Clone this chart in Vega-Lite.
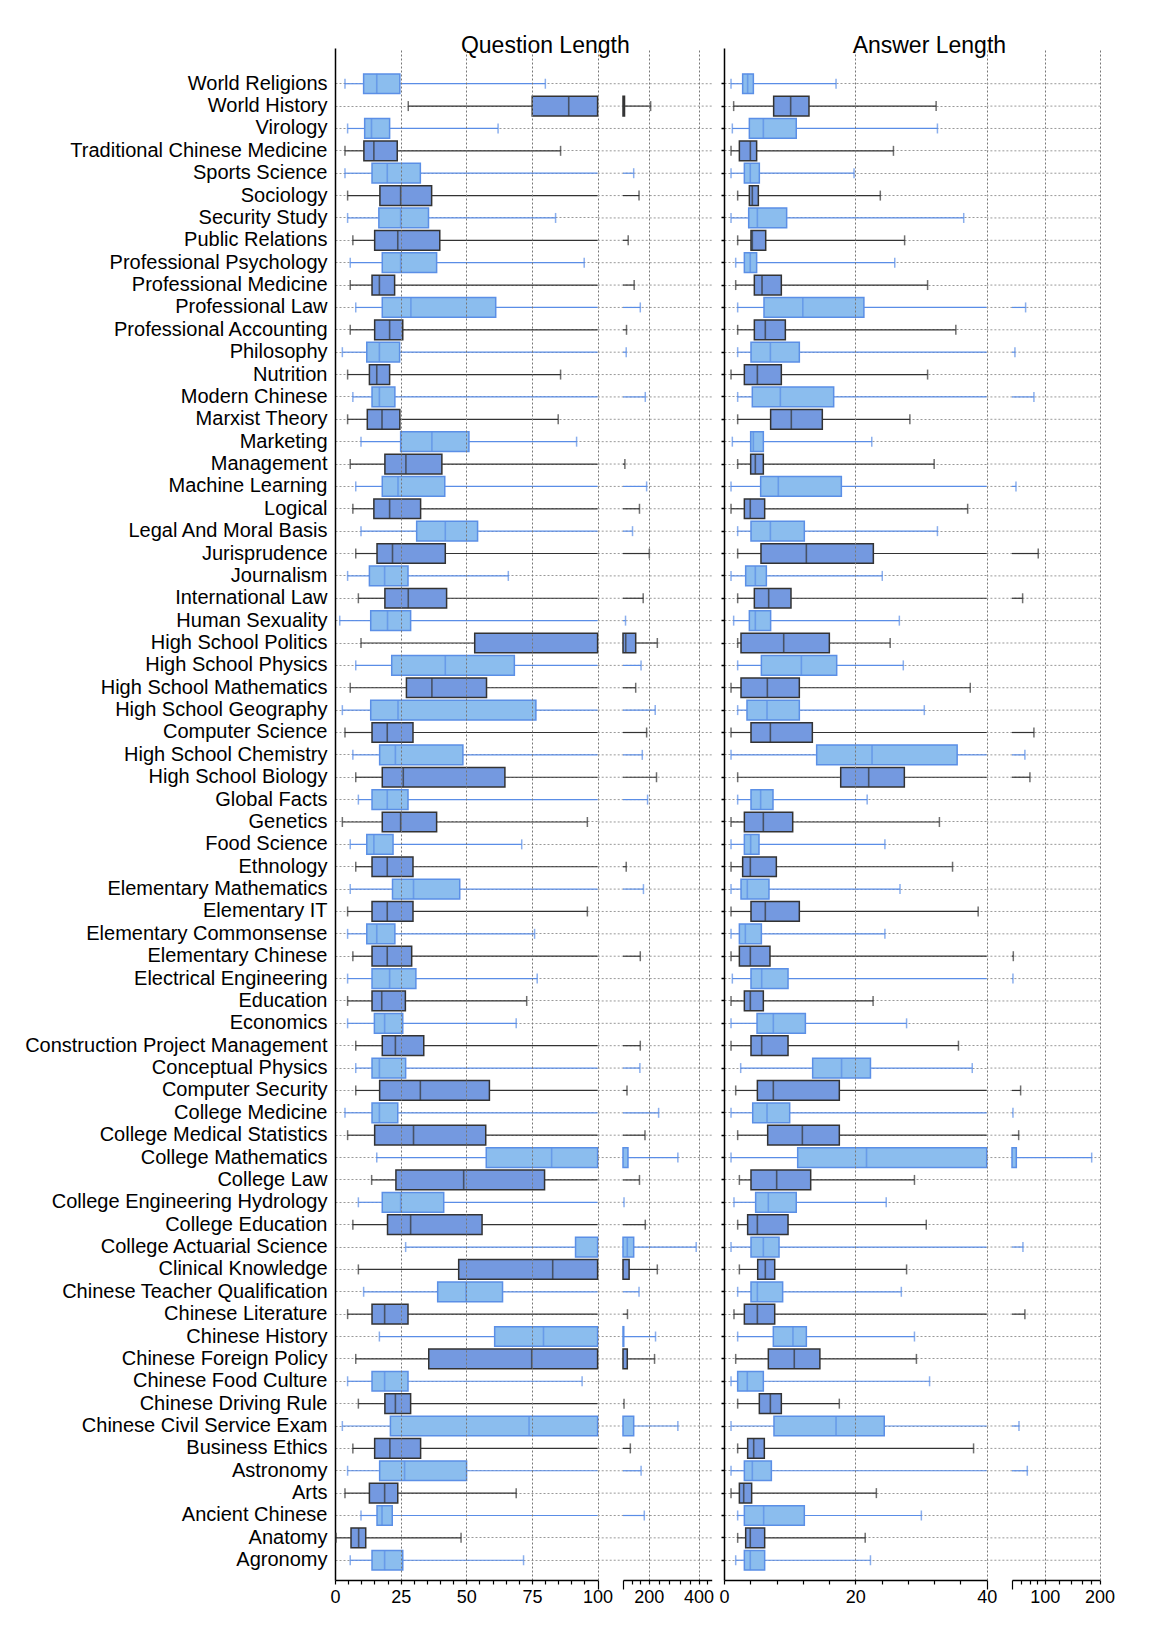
{
"$schema": "https://vega.github.io/schema/vega-lite/v6.json",
"padding": {"left": 24, "top": 35, "right": 10, "bottom": 10},
"background": "white",
"config": {"view": {"stroke": null}, "font": "Liberation Sans"},
"data": {"values": [
{"s":"World Religions","qmin":3.8,"qq1":10.9,"qmed":15.9,"qq3":24.7,"qmax":80.1,"amin":1.07,"aq1":2.84,"amed":3.6,"aq3":4.47,"amax":17.06},
{"s":"World History","qmin":27.9,"qq1":75.1,"qmed":89,"qq3":143,"qmax":205.5,"amin":1.47,"aq1":7.56,"amed":10.15,"aq3":12.94,"amax":32.3},
{"s":"Virology","qmin":4.8,"qq1":11.3,"qmed":13.9,"qq3":20.8,"qmax":62.1,"amin":1.27,"aq1":3.86,"amed":5.99,"aq3":11.0,"amax":32.5},
{"s":"Traditional Chinese Medicine","qmin":3.8,"qq1":11.0,"qmed":14.8,"qq3":23.7,"qmax":85.9,"amin":1.07,"aq1":2.34,"amed":4.01,"aq3":4.97,"amax":25.8},
{"s":"Sports Science","qmin":3.8,"qq1":14.1,"qmed":19.9,"qq3":32.5,"qmax":162.4,"amin":1.07,"aq1":3.1,"amed":4.0,"aq3":5.38,"amax":19.8},
{"s":"Sociology","qmin":4.8,"qq1":17.1,"qmed":25.0,"qq3":36.8,"qmax":174.9,"amin":2.08,"aq1":3.86,"amed":4.31,"aq3":5.23,"amax":23.8},
{"s":"Security Study","qmin":4.8,"qq1":16.7,"qmed":25.0,"qq3":35.6,"qmax":84.0,"amin":1.07,"aq1":3.76,"amed":5.08,"aq3":9.54,"amax":36.5},
{"s":"Public Relations","qmin":6.8,"qq1":15.1,"qmed":23.9,"qq3":39.9,"qmax":150.5,"amin":2.08,"aq1":4.11,"amed":4.31,"aq3":6.35,"amax":27.5},
{"s":"Professional Psychology","qmin":5.8,"qq1":18.0,"qmed":25.0,"qq3":38.7,"qmax":94.9,"amin":1.78,"aq1":3.1,"amed":4.0,"aq3":4.97,"amax":26.0},
{"s":"Professional Medicine","qmin":5.8,"qq1":14.1,"qmed":16.9,"qq3":22.7,"qmax":163.5,"amin":1.78,"aq1":4.62,"amed":5.79,"aq3":8.73,"amax":31.0},
{"s":"Professional Law","qmin":7.9,"qq1":18.0,"qmed":28.9,"qq3":61.2,"qmax":178,"amin":2.08,"aq1":6.09,"amed":12.0,"aq3":21.3,"amax":78.4},
{"s":"Professional Accounting","qmin":5.8,"qq1":15.1,"qmed":20.8,"qq3":25.8,"qmax":147,"amin":2.08,"aq1":4.62,"amed":6.29,"aq3":9.34,"amax":35.3},
{"s":"Philosophy","qmin":2.8,"qq1":12.1,"qmed":16.9,"qq3":24.6,"qmax":146.4,"amin":2.08,"aq1":4.11,"amed":7.06,"aq3":11.47,"amax":68.5},
{"s":"Nutrition","qmin":4.8,"qq1":13.1,"qmed":15.9,"qq3":20.8,"qmax":85.9,"amin":1.07,"aq1":3.1,"amed":5.08,"aq3":8.73,"amax":31.0},
{"s":"Modern Chinese","qmin":6.8,"qq1":14.1,"qmed":16.9,"qq3":22.8,"qmax":190.8,"amin":2.08,"aq1":4.31,"amed":8.58,"aq3":16.7,"amax":87.1},
{"s":"Marxist Theory","qmin":4.8,"qq1":12.3,"qmed":17.9,"qq3":24.7,"qmax":85.0,"amin":2.08,"aq1":7.1,"amed":10.25,"aq3":14.97,"amax":28.3},
{"s":"Marketing","qmin":9.9,"qq1":25.0,"qmed":36.9,"qq3":51.0,"qmax":92.0,"amin":1.27,"aq1":4.06,"amed":4.47,"aq3":5.99,"amax":22.5},
{"s":"Management","qmin":5.8,"qq1":19.0,"qmed":27.0,"qq3":40.7,"qmax":143.7,"amin":2.08,"aq1":4.06,"amed":4.77,"aq3":5.99,"amax":32.0},
{"s":"Machine Learning","qmin":7.9,"qq1":18.0,"qmed":24.0,"qq3":41.8,"qmax":194.4,"amin":1.07,"aq1":5.58,"amed":8.27,"aq3":17.87,"amax":69.4},
{"s":"Logical","qmin":6.8,"qq1":14.8,"qmed":20.8,"qq3":32.6,"qmax":176,"amin":1.07,"aq1":3.1,"amed":4.0,"aq3":6.19,"amax":37.1},
{"s":"Legal And Moral Basis","qmin":9.9,"qq1":31.1,"qmed":42.0,"qq3":54.3,"qmax":159.8,"amin":2.08,"aq1":4.11,"amed":7.06,"aq3":12.23,"amax":32.5},
{"s":"Jurisprudence","qmin":7.9,"qq1":16.0,"qmed":21.9,"qq3":42.0,"qmax":201.8,"amin":2.08,"aq1":5.63,"amed":12.54,"aq3":22.74,"amax":92.0},
{"s":"Journalism","qmin":4.8,"qq1":13.1,"qmed":18.9,"qq3":27.8,"qmax":66.0,"amin":1.07,"aq1":3.3,"amed":4.77,"aq3":6.45,"amax":24.1},
{"s":"International Law","qmin":8.9,"qq1":19.0,"qmed":27.9,"qq3":42.5,"qmax":185.3,"amin":2.08,"aq1":4.62,"amed":6.8,"aq3":10.2,"amax":75.5},
{"s":"Human Sexuality","qmin":1.8,"qq1":13.6,"qmed":20.0,"qq3":28.8,"qmax":145,"amin":1.47,"aq1":3.86,"amed":4.77,"aq3":7.1,"amax":26.7},
{"s":"High School Politics","qmin":9.9,"qq1":53.2,"qmed":145.4,"qq3":167,"qmax":225.5,"amin":2.08,"aq1":2.59,"amed":9.09,"aq3":16.04,"amax":25.3},
{"s":"High School Physics","qmin":7.9,"qq1":21.6,"qmed":42.0,"qq3":68.3,"qmax":179.9,"amin":2.08,"aq1":5.69,"amed":11.78,"aq3":17.16,"amax":27.3},
{"s":"High School Mathematics","qmin":5.8,"qq1":27.2,"qmed":36.9,"qq3":57.7,"qmax":167,"amin":1.07,"aq1":2.59,"amed":6.6,"aq3":11.47,"amax":37.5},
{"s":"High School Geography","qmin":2.8,"qq1":13.6,"qmed":24.0,"qq3":76.5,"qmax":219,"amin":2.08,"aq1":3.5,"amed":6.55,"aq3":11.47,"amax":30.5},
{"s":"Computer Science","qmin":3.8,"qq1":14.1,"qmed":19.9,"qq3":29.7,"qmax":194.4,"amin":1.07,"aq1":4.11,"amed":7.06,"aq3":13.45,"amax":87.1},
{"s":"High School Chemistry","qmin":6.8,"qq1":17.0,"qmed":23.0,"qq3":48.7,"qmax":183,"amin":1.07,"aq1":14.11,"amed":22.54,"aq3":35.5,"amax":77.7},
{"s":"High School Biology","qmin":7.9,"qq1":18.0,"qmed":26.0,"qq3":64.7,"qmax":223,"amin":2.08,"aq1":17.77,"amed":22.03,"aq3":27.46,"amax":82.8},
{"s":"Global Facts","qmin":8.9,"qq1":14.1,"qmed":19.9,"qq3":27.8,"qmax":197,"amin":2.08,"aq1":4.11,"amed":5.58,"aq3":7.46,"amax":21.8},
{"s":"Genetics","qmin":2.8,"qq1":18.0,"qmed":25.0,"qq3":38.7,"qmax":96.1,"amin":1.07,"aq1":3.1,"amed":5.99,"aq3":10.46,"amax":32.8},
{"s":"Food Science","qmin":5.8,"qq1":12.1,"qmed":14.8,"qq3":22.1,"qmax":71.1,"amin":1.07,"aq1":3.1,"amed":4.06,"aq3":5.33,"amax":24.5},
{"s":"Ethnology","qmin":7.9,"qq1":14.1,"qmed":19.9,"qq3":29.7,"qmax":146.4,"amin":1.07,"aq1":2.84,"amed":4.01,"aq3":7.97,"amax":34.8},
{"s":"Elementary Mathematics","qmin":5.8,"qq1":21.9,"qmed":29.9,"qq3":47.5,"qmax":186,"amin":1.07,"aq1":2.59,"amed":3.55,"aq3":6.85,"amax":26.8},
{"s":"Elementary IT","qmin":4.8,"qq1":14.1,"qmed":19.9,"qq3":29.7,"qmax":96.1,"amin":1.07,"aq1":4.11,"amed":6.29,"aq3":11.47,"amax":38.7},
{"s":"Elementary Commonsense","qmin":4.8,"qq1":12.1,"qmed":15.9,"qq3":22.8,"qmax":76.0,"amin":1.07,"aq1":2.34,"amed":3.25,"aq3":5.69,"amax":24.5},
{"s":"Elementary Chinese","qmin":6.8,"qq1":14.1,"qmed":19.9,"qq3":29.2,"qmax":178,"amin":1.07,"aq1":2.34,"amed":4.01,"aq3":7.0,"amax":67.1},
{"s":"Electrical Engineering","qmin":4.8,"qq1":14.1,"qmed":20.8,"qq3":30.8,"qmax":77.0,"amin":1.27,"aq1":4.11,"amed":5.74,"aq3":9.75,"amax":66.8},
{"s":"Education","qmin":4.8,"qq1":14.1,"qmed":17.8,"qq3":26.8,"qmax":73.0,"amin":1.07,"aq1":3.1,"amed":4.01,"aq3":5.99,"amax":22.7},
{"s":"Economics","qmin":4.8,"qq1":15.0,"qmed":18.9,"qq3":25.8,"qmax":69.0,"amin":1.07,"aq1":5.03,"amed":7.51,"aq3":12.39,"amax":27.8},
{"s":"Construction Project Management","qmin":7.9,"qq1":18.0,"qmed":23.0,"qq3":33.8,"qmax":178,"amin":1.07,"aq1":4.11,"amed":5.74,"aq3":9.75,"amax":35.7},
{"s":"Conceptual Physics","qmin":7.9,"qq1":14.1,"qmed":16.9,"qq3":26.9,"qmax":177,"amin":2.54,"aq1":13.5,"amed":17.9,"aq3":22.3,"amax":37.8},
{"s":"Computer Security","qmin":7.9,"qq1":17.0,"qmed":32.5,"qq3":58.8,"qmax":148,"amin":1.78,"aq1":5.08,"amed":7.51,"aq3":17.56,"amax":73.6},
{"s":"College Medicine","qmin":3.8,"qq1":14.1,"qmed":16.9,"qq3":23.9,"qmax":229.6,"amin":1.07,"aq1":4.37,"amed":6.55,"aq3":10.0,"amax":66.8},
{"s":"College Medical Statistics","qmin":4.8,"qq1":15.1,"qmed":29.9,"qq3":57.4,"qmax":190,"amin":2.08,"aq1":6.65,"amed":11.93,"aq3":17.56,"amax":71.8},
{"s":"College Mathematics","qmin":15.9,"qq1":57.6,"qmed":82.5,"qq3":150,"qmax":300,"amin":1.07,"aq1":11.22,"amed":21.7,"aq3":69.7,"amax":180.9},
{"s":"College Law","qmin":13.95,"qq1":23.2,"qmed":49.0,"qq3":79.8,"qmax":176,"amin":2.34,"aq1":4.11,"amed":8.02,"aq3":13.2,"amax":29.0},
{"s":"College Engineering Hydrology","qmin":8.9,"qq1":18.0,"qmed":25.0,"qq3":41.4,"qmax":142,"amin":1.52,"aq1":4.82,"amed":6.75,"aq3":11.0,"amax":24.7},
{"s":"College Education","qmin":6.8,"qq1":20.0,"qmed":28.8,"qq3":56.0,"qmax":190.8,"amin":2.08,"aq1":3.6,"amed":5.08,"aq3":9.75,"amax":30.8},
{"s":"College Actuarial Science","qmin":26.9,"qq1":91.6,"qmed":148.6,"qq3":162.4,"qmax":387,"amin":1.07,"aq1":4.11,"amed":5.99,"aq3":8.38,"amax":75.8},
{"s":"Clinical Knowledge","qmin":8.9,"qq1":47.1,"qmed":82.9,"qq3":152.4,"qmax":225.5,"amin":2.34,"aq1":5.13,"amed":6.29,"aq3":7.72,"amax":27.8},
{"s":"Chinese Teacher Qualification","qmin":10.9,"qq1":39.1,"qmed":49.9,"qq3":63.8,"qmax":174.9,"amin":2.08,"aq1":4.11,"amed":5.08,"aq3":8.93,"amax":27.0},
{"s":"Chinese Literature","qmin":4.8,"qq1":14.1,"qmed":18.9,"qq3":27.8,"qmax":149,"amin":1.52,"aq1":3.1,"amed":5.08,"aq3":7.72,"amax":77.7},
{"s":"Chinese History","qmin":16.9,"qq1":60.8,"qmed":79.4,"qq3":141.5,"qmax":220,"amin":2.08,"aq1":7.51,"amed":10.5,"aq3":12.54,"amax":29.0},
{"s":"Chinese Foreign Policy","qmin":7.9,"qq1":35.7,"qmed":74.9,"qq3":148.6,"qmax":217,"amin":1.78,"aq1":6.75,"amed":10.7,"aq3":14.6,"amax":29.3},
{"s":"Chinese Food Culture","qmin":4.8,"qq1":14.1,"qmed":18.9,"qq3":27.8,"qmax":94.1,"amin":1.07,"aq1":2.08,"amed":3.55,"aq3":5.99,"amax":31.3},
{"s":"Chinese Driving Rule","qmin":8.9,"qq1":19.0,"qmed":23.0,"qq3":28.8,"qmax":142,"amin":2.08,"aq1":5.38,"amed":7.06,"aq3":8.73,"amax":17.56},
{"s":"Chinese Civil Service Exam","qmin":2.8,"qq1":21.1,"qmed":73.9,"qq3":162.4,"qmax":300,"amin":1.07,"aq1":7.61,"amed":17.06,"aq3":24.4,"amax":72.1},
{"s":"Business Ethics","qmin":6.8,"qq1":15.1,"qmed":20.9,"qq3":32.6,"qmax":155,"amin":2.08,"aq1":3.6,"amed":4.52,"aq3":6.14,"amax":38.0},
{"s":"Astronomy","qmin":4.8,"qq1":17.0,"qmed":26.5,"qq3":50.1,"qmax":180,"amin":1.07,"aq1":3.1,"amed":4.31,"aq3":7.21,"amax":80.1},
{"s":"Arts","qmin":3.8,"qq1":13.1,"qmed":18.9,"qq3":23.9,"qmax":69.0,"amin":1.07,"aq1":2.34,"amed":3.0,"aq3":4.21,"amax":23.2},
{"s":"Ancient Chinese","qmin":9.9,"qq1":16.0,"qmed":17.9,"qq3":21.8,"qmax":188.2,"amin":2.08,"aq1":3.1,"amed":6.04,"aq3":12.23,"amax":30.05},
{"s":"Anatomy","qmin":0.4,"qq1":6.1,"qmed":9.0,"qq3":11.7,"qmax":48.0,"amin":2.08,"aq1":3.3,"amed":4.0,"aq3":6.19,"amax":21.5},
{"s":"Agronomy","qmin":5.8,"qq1":14.1,"qmed":18.9,"qq3":25.8,"qmax":71.8,"amin":1.78,"aq1":3.1,"amed":4.0,"aq3":6.19,"amax":22.3}
]},
"transform": [
  {"window": [{"op": "row_number", "as": "idx"}]},
  {"calculate": "datum.idx % 2 === 1 ? 'light' : 'dark'", "as": "shade"}
],
"bounds": "flush",
"spacing": 0,
"resolve": {"scale": {"x": "independent", "y": "independent"}},
"hconcat": [
{
  "width": 262.6, "height": 1532,
  "title": {"text": "Question Length", "fontSize": 23, "font": "Liberation Sans", "fontWeight": "normal", "color": "#000", "anchor": "middle", "frame": "group", "baseline": "alphabetic", "offset": 0, "dx": 79, "dy": 28},
  "encoding": {"y": {"field": "s", "type": "nominal", "sort": null, "title": null,
    "scale": {"paddingInner": 0.12, "paddingOuter": 0.8, "align": 0.723},
    "axis": {"domain": true, "domainColor": "#000", "domainWidth": 1.5, "ticks": false, "labelFontSize": 20, "labelFont": "Liberation Sans", "labelColor": "#000", "labelPadding": 8, "labelLimit": 500, "grid": true, "gridColor": "#999", "gridDash": [2, 2], "gridWidth": 1, "title": null}}},
  "layer": [
    {"mark": {"type": "rule", "strokeWidth": 1.2}, "encoding": {
      "x": {"field": "qmin", "type": "quantitative", "title": null,
        "scale": {"type": "linear", "domain": [0, 100], "clamp": true, "nice": false, "zero": false},
        "axis": {"values": [0,5,10,15,20,25,30,35,40,45,50,55,60,65,70,75,80,85,90,95,100], "tickCount": 200, "labelExpr": "(datum.value % 25 === 0) ? format(datum.value, 'd') : ''", "labelFlush": false, "labelOverlap": false, "labelBound": false, "labelFontSize": 18, "labelFont": "Liberation Sans", "labelColor": "#000", "labelPadding": {"condition": {"test": "datum.value === 100", "value": -1}, "value": 4}, "tickColor": "#000", "tickWidth": 1.2, "tickSize": {"condition": {"test": "datum.value === 100", "value": 9}, "value": 4}, "domainColor": "#000", "domainWidth": 1.5, "grid": true, "gridColor": "#777", "gridDash": [2, 2], "gridWidth": 1, "gridOpacity": {"condition": {"test": "datum.value % 25 === 0 && datum.value > 0", "value": 1}, "value": 0}, "zindex": 1, "title": null}},
      "x2": {"field": "qq1"},
      "color": {"field": "shade", "type": "nominal", "scale": {"domain": ["light", "dark"], "range": ["#5a8de6", "#333333"]}, "legend": null}}},
    {"mark": {"type": "rule", "strokeWidth": 1.2}, "encoding": {
      "x": {"field": "qq3", "type": "quantitative", "title": null}, "x2": {"field": "qmax"},
      "color": {"field": "shade", "type": "nominal", "legend": null}}},
    {"mark": {"type": "bar", "strokeWidth": 1.5}, "encoding": {
      "x": {"field": "qq1", "type": "quantitative", "title": null}, "x2": {"field": "qq3"},
      "fill": {"field": "shade", "type": "nominal", "scale": {"domain": ["light", "dark"], "range": ["#8bbdee", "#7499e0"]}, "legend": null},
      "stroke": {"field": "shade", "type": "nominal", "scale": {"domain": ["light", "dark"], "range": ["#5b8fe6", "#333333"]}, "legend": null}}},
    {"transform": [{"filter": "datum.qmed <= 100"}], "mark": {"type": "tick", "thickness": 1.6, "size": 19.7}, "encoding": {
      "x": {"field": "qmed", "type": "quantitative", "title": null},
      "color": {"field": "shade", "type": "nominal", "legend": null}}},
    {"mark": {"type": "tick", "thickness": 1.5, "size": 10}, "encoding": {
      "x": {"field": "qmin", "type": "quantitative", "title": null},
      "color": {"field": "shade", "type": "nominal", "legend": null}}},
    {"transform": [{"filter": "datum.qmax <= 100"}], "mark": {"type": "tick", "thickness": 1.5, "size": 10}, "encoding": {
      "x": {"field": "qmax", "type": "quantitative", "title": null},
      "color": {"field": "shade", "type": "nominal", "legend": null}}}
  ]
},
{
  "width": 113.7, "height": 1532,
  "encoding": {"y": {"field": "s", "type": "nominal", "sort": null, "title": null,
    "scale": {"paddingInner": 0.12, "paddingOuter": 0.8, "align": 0.723}, "axis": null}},
  "layer": [
    {"mark": {"type": "rule", "color": "#999", "strokeDash": [2, 2], "strokeWidth": 1}, "encoding": {}},
    {"transform": [{"filter": "datum.qmax > 140"}], "mark": {"type": "rule", "strokeWidth": 1.2}, "encoding": {
      "x": {"field": "qq3", "type": "quantitative", "title": null,
        "scale": {"type": "log", "domain": [140, 480], "range": [25, 113.7], "clamp": true, "nice": false},
        "axis": {"values": [140, 158, 178, 200, 231, 266, 307, 354, 400, 448], "tickCount": 200, "labelExpr": "(datum.value === 200 || datum.value === 400) ? format(datum.value, 'd') : ''", "labelFlush": false, "labelOverlap": false, "labelBound": false, "labelFontSize": 18, "labelFont": "Liberation Sans", "labelColor": "#000", "labelPadding": {"condition": {"test": "datum.value === 140", "value": -1}, "value": 4}, "tickColor": "#000", "tickWidth": 1.2, "tickSize": {"condition": {"test": "datum.value === 140", "value": 9}, "value": 4}, "domainColor": "#000", "domainWidth": 1.5, "grid": true, "gridColor": "#777", "gridDash": [2, 2], "gridWidth": 1, "gridOpacity": {"condition": {"test": "datum.value === 200 || datum.value === 400", "value": 1}, "value": 0}, "zindex": 1, "title": null}},
      "x2": {"field": "qmax"},
      "color": {"field": "shade", "type": "nominal", "scale": {"domain": ["light", "dark"], "range": ["#5a8de6", "#333333"]}, "legend": null}}},
    {"transform": [{"filter": "datum.qq3 > 140"}], "mark": {"type": "bar", "strokeWidth": 1.5}, "encoding": {
      "x": {"field": "qq1", "type": "quantitative", "title": null}, "x2": {"field": "qq3"},
      "fill": {"field": "shade", "type": "nominal", "scale": {"domain": ["light", "dark"], "range": ["#8bbdee", "#7499e0"]}, "legend": null},
      "stroke": {"field": "shade", "type": "nominal", "scale": {"domain": ["light", "dark"], "range": ["#5b8fe6", "#333333"]}, "legend": null}}},
    {"transform": [{"filter": "datum.qmed > 140"}], "mark": {"type": "tick", "thickness": 1.6, "size": 19.7}, "encoding": {
      "x": {"field": "qmed", "type": "quantitative", "title": null},
      "color": {"field": "shade", "type": "nominal", "legend": null}}},
    {"transform": [{"filter": "datum.qmax > 140"}], "mark": {"type": "tick", "thickness": 1.5, "size": 10}, "encoding": {
      "x": {"field": "qmax", "type": "quantitative", "title": null},
      "color": {"field": "shade", "type": "nominal", "legend": null}}}
  ]
},
{
  "width": 274.7, "height": 1532,
  "title": {"text": "Answer Length", "fontSize": 23, "font": "Liberation Sans", "fontWeight": "normal", "color": "#000", "anchor": "middle", "frame": "group", "baseline": "alphabetic", "offset": 0, "dx": 80, "dy": 28},
  "encoding": {"y": {"field": "s", "type": "nominal", "sort": null, "title": null,
    "scale": {"paddingInner": 0.12, "paddingOuter": 0.8, "align": 0.723},
    "axis": {"domain": true, "domainColor": "#000", "domainWidth": 1.5, "ticks": true, "tickSize": 3, "tickColor": "#000", "tickWidth": 1.5, "labels": false, "offset": -12, "grid": true, "gridColor": "#999", "gridDash": [2, 2], "gridWidth": 1, "title": null}}},
  "layer": [
    {"mark": {"type": "rule", "strokeWidth": 1.2}, "encoding": {
      "x": {"field": "amin", "type": "quantitative", "title": null,
        "scale": {"type": "linear", "domain": [0, 40], "range": [12, 274.7], "clamp": true, "nice": false, "zero": false},
        "axis": {"values": [0,4,8,12,16,20,24,28,32,36,40], "tickCount": 200, "labelExpr": "(datum.value % 20 === 0) ? format(datum.value, 'd') : ''", "labelFlush": false, "labelOverlap": false, "labelBound": false, "labelFontSize": 18, "labelFont": "Liberation Sans", "labelColor": "#000", "labelPadding": {"condition": {"test": "datum.value === 40", "value": -1}, "value": 4}, "tickColor": "#000", "tickWidth": 1.2, "tickSize": {"condition": {"test": "datum.value === 40", "value": 9}, "value": 4}, "domainColor": "#000", "domainWidth": 1.5, "grid": true, "gridColor": "#777", "gridDash": [2, 2], "gridWidth": 1, "gridOpacity": {"condition": {"test": "datum.value === 20 || datum.value === 40", "value": 1}, "value": 0}, "zindex": 1, "title": null}},
      "x2": {"field": "aq1"},
      "color": {"field": "shade", "type": "nominal", "scale": {"domain": ["light", "dark"], "range": ["#5a8de6", "#333333"]}, "legend": null}}},
    {"mark": {"type": "rule", "strokeWidth": 1.2}, "encoding": {
      "x": {"field": "aq3", "type": "quantitative", "title": null}, "x2": {"field": "amax"},
      "color": {"field": "shade", "type": "nominal", "legend": null}}},
    {"mark": {"type": "bar", "strokeWidth": 1.5}, "encoding": {
      "x": {"field": "aq1", "type": "quantitative", "title": null}, "x2": {"field": "aq3"},
      "fill": {"field": "shade", "type": "nominal", "scale": {"domain": ["light", "dark"], "range": ["#8bbdee", "#7499e0"]}, "legend": null},
      "stroke": {"field": "shade", "type": "nominal", "scale": {"domain": ["light", "dark"], "range": ["#5b8fe6", "#333333"]}, "legend": null}}},
    {"transform": [{"filter": "datum.amed <= 40"}], "mark": {"type": "tick", "thickness": 1.6, "size": 19.7}, "encoding": {
      "x": {"field": "amed", "type": "quantitative", "title": null},
      "color": {"field": "shade", "type": "nominal", "legend": null}}},
    {"mark": {"type": "tick", "thickness": 1.5, "size": 10}, "encoding": {
      "x": {"field": "amin", "type": "quantitative", "title": null},
      "color": {"field": "shade", "type": "nominal", "legend": null}}},
    {"transform": [{"filter": "datum.amax <= 40"}], "mark": {"type": "tick", "thickness": 1.5, "size": 10}, "encoding": {
      "x": {"field": "amax", "type": "quantitative", "title": null},
      "color": {"field": "shade", "type": "nominal", "legend": null}}}
  ]
},
{
  "width": 113.4, "height": 1532,
  "encoding": {"y": {"field": "s", "type": "nominal", "sort": null, "title": null,
    "scale": {"paddingInner": 0.12, "paddingOuter": 0.8, "align": 0.723}, "axis": null}},
  "layer": [
    {"mark": {"type": "rule", "color": "#999", "strokeDash": [2, 2], "strokeWidth": 1}, "encoding": {}},
    {"transform": [{"filter": "datum.amax > 66"}], "mark": {"type": "rule", "strokeWidth": 1.2}, "encoding": {
      "x": {"field": "aq3", "type": "quantitative", "title": null,
        "scale": {"type": "log", "domain": [66, 200], "range": [25, 112.6], "clamp": true, "nice": false},
        "axis": {"values": [66, 74, 83, 90, 100, 120, 140, 160, 180, 200], "tickCount": 200, "labelExpr": "(datum.value === 100 || datum.value === 200) ? format(datum.value, 'd') : ''", "labelFlush": false, "labelOverlap": false, "labelBound": false, "labelFontSize": 18, "labelFont": "Liberation Sans", "labelColor": "#000", "labelPadding": {"condition": {"test": "datum.value === 66", "value": -1}, "value": 4}, "tickColor": "#000", "tickWidth": 1.2, "tickSize": {"condition": {"test": "datum.value === 66", "value": 9}, "value": 4}, "domainColor": "#000", "domainWidth": 1.5, "grid": true, "gridColor": "#777", "gridDash": [2, 2], "gridWidth": 1, "gridOpacity": {"condition": {"test": "datum.value === 100 || datum.value === 200", "value": 1}, "value": 0}, "zindex": 1, "title": null}},
      "x2": {"field": "amax"},
      "color": {"field": "shade", "type": "nominal", "scale": {"domain": ["light", "dark"], "range": ["#5a8de6", "#333333"]}, "legend": null}}},
    {"transform": [{"filter": "datum.aq3 > 66"}], "mark": {"type": "bar", "strokeWidth": 1.5}, "encoding": {
      "x": {"field": "aq1", "type": "quantitative", "title": null}, "x2": {"field": "aq3"},
      "fill": {"field": "shade", "type": "nominal", "scale": {"domain": ["light", "dark"], "range": ["#8bbdee", "#7499e0"]}, "legend": null},
      "stroke": {"field": "shade", "type": "nominal", "scale": {"domain": ["light", "dark"], "range": ["#5b8fe6", "#333333"]}, "legend": null}}},
    {"transform": [{"filter": "datum.amed > 66"}], "mark": {"type": "tick", "thickness": 1.6, "size": 19.7}, "encoding": {
      "x": {"field": "amed", "type": "quantitative", "title": null},
      "color": {"field": "shade", "type": "nominal", "legend": null}}},
    {"transform": [{"filter": "datum.amax > 66"}], "mark": {"type": "tick", "thickness": 1.5, "size": 10}, "encoding": {
      "x": {"field": "amax", "type": "quantitative", "title": null},
      "color": {"field": "shade", "type": "nominal", "legend": null}}}
  ]
}
]
}
